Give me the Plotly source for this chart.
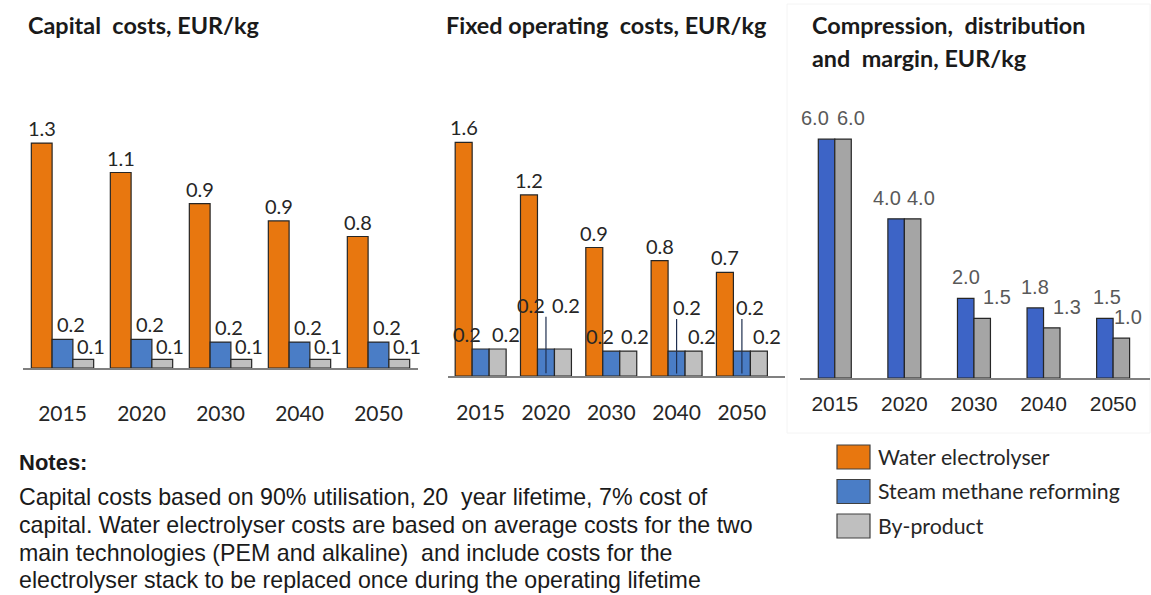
import plotly.graph_objects as go

W, H = 1151, 595

# ---------------- data ----------------
years = ["2015", "2020", "2030", "2040", "2050"]
series_names = ["Water electrolyser", "Steam methane reforming", "By-product"]

cap_water = [1.30, 1.13, 0.95, 0.85, 0.76]
cap_smr = [0.165, 0.165, 0.15, 0.15, 0.15]
cap_byp = [0.05, 0.05, 0.05, 0.05, 0.05]
cap_water_lbl = ["1.3", "1.1", "0.9", "0.9", "0.8"]
cap_smr_lbl = ["0.2", "0.2", "0.2", "0.2", "0.2"]
cap_byp_lbl = ["0.1", "0.1", "0.1", "0.1", "0.1"]

fix_water = [1.60, 1.24, 0.88, 0.79, 0.71]
fix_smr = [0.185, 0.185, 0.17, 0.17, 0.17]
fix_byp = [0.185, 0.185, 0.17, 0.17, 0.17]
fix_water_lbl = ["1.6", "1.2", "0.9", "0.8", "0.7"]
fix_smr_lbl = ["0.2", "0.2", "0.2", "0.2", "0.2"]
fix_byp_lbl = ["0.2", "0.2", "0.2", "0.2", "0.2"]

cdm_smr = [6.0, 4.0, 2.0, 1.76, 1.5]
cdm_byp = [6.0, 4.0, 1.5, 1.26, 1.0]
cdm_smr_lbl = ["6.0", "4.0", "2.0", "1.8", "1.5"]
cdm_byp_lbl = ["6.0", "4.0", "1.5", "1.3", "1.0"]

notes_title = "Notes:"
notes_lines = [
    "Capital costs based on 90% utilisation, 20  year lifetime, 7% cost of",
    "capital. Water electrolyser costs are based on average costs for the two",
    "main technologies (PEM and alkaline)  and include costs for the",
    "electrolyser stack to be replaced once during the operating lifetime",
]

# ---------------- styles ----------------
ORANGE = "#E8770F"
BLUE = "#4A7DC6"
GRAY = "#BFBFBF"
BLUE3 = "#3D64C6"
GRAY3 = "#A5A5A5"
EDGE = "#262626"
CAL = "Lato, 'Open Sans', sans-serif"
ARI = "'Liberation Sans', Arial, sans-serif"

def px(x):
    return x / W

def py(y):
    return 1 - y / H

idx = list(range(len(years)))

fig = go.Figure()

def add_bar(vals, color, xa, ya, width, offset):
    fig.add_trace(go.Bar(
        x=idx, y=vals, xaxis=xa, yaxis=ya, width=width, offset=offset,
        marker=dict(color=color, line=dict(color=EDGE, width=1.2)),
        showlegend=False, hoverinfo="skip"))

w1 = 0.263
add_bar(cap_water, ORANGE, "x", "y", w1, -1.5 * w1)
add_bar(cap_smr, BLUE, "x", "y", w1, -0.5 * w1)
add_bar(cap_byp, GRAY, "x", "y", w1, 0.5 * w1)

w2 = 0.26
add_bar(fix_water, ORANGE, "x2", "y2", w2, -1.5 * w2)
add_bar(fix_smr, BLUE, "x2", "y2", w2, -0.5 * w2)
add_bar(fix_byp, GRAY, "x2", "y2", w2, 0.5 * w2)

w3 = 0.237
add_bar(cdm_smr, BLUE3, "x3", "y3", w3, -w3)
add_bar(cdm_byp, GRAY3, "x3", "y3", w3, 0.0)

annotations = []

def lab(x, y, text, xa, ya, xshift=0, yshift=4, font=CAL, size=20, color="#262626"):
    annotations.append(dict(
        x=x, y=y, xref=xa, yref=ya, text=text, showarrow=False,
        xanchor="center", yanchor="bottom", xshift=xshift, yshift=yshift,
        font=dict(family=font, size=size, color=color)))

# panel 1 labels
for i in idx:
    lab(i - w1, cap_water[i], cap_water_lbl[i], "x", "y", 0, 1)
    lab(i, cap_smr[i], cap_smr_lbl[i], "x", "y", 8, 1)
    lab(i + w1, cap_byp[i], cap_byp_lbl[i], "x", "y", 8, -1)

# panel 2 labels
fix_smr_dx = [-14, -15, -11, 10, 8]
fix_smr_up = [0, 1, 0, 1, 1]
fix_byp_dx = [8, 3, 7, 8, 8]
fix_byp_up = [0, 1, 0, 0, 0]
for i in idx:
    lab(i - w2, fix_water[i], fix_water_lbl[i], "x2", "y2", 0, 1)
    lab(i, fix_smr[i], fix_smr_lbl[i], "x2", "y2", fix_smr_dx[i], 1 + 29 * fix_smr_up[i])
    lab(i + w2, fix_byp[i], fix_byp_lbl[i], "x2", "y2", fix_byp_dx[i], 1 + 29 * fix_byp_up[i])

shapes = []
for i in idx:
    if fix_smr_up[i]:
        shapes.append(dict(type="line", xref="x2", yref="y2",
                           x0=i, x1=i, y0=fix_smr[i] * 0.1, y1=fix_smr[i] + 0.22,
                           line=dict(color="#1F2F4F", width=1.2)))

# panel 3 labels
cdm_smr_dx = [-12, -9, 0, 0, 2]
cdm_byp_dx = [8, 8, 15, 15, 7]
for i in idx:
    lab(i - w3 / 2, cdm_smr[i], cdm_smr_lbl[i], "x3", "y3", cdm_smr_dx[i], 8, ARI, 20, "#595959")
    lab(i + w3 / 2, cdm_byp[i], cdm_byp_lbl[i], "x3", "y3", cdm_byp_dx[i], 8, ARI, 20, "#595959")

# titles
def txt(x, y, text, size, family, color="#1a1a1a", bold=False, anchor="left"):
    annotations.append(dict(
        x=px(x), y=py(y), xref="paper", yref="paper",
        text=f"<b>{text}</b>" if bold else text, showarrow=False,
        xanchor=anchor, yanchor="middle",
        font=dict(family=family, size=size, color=color)))

TS = 23.4
txt(26, 25, "Capital  costs, EUR/kg", TS, CAL, bold=True)
txt(444, 25, "Fixed operating  costs, EUR/kg", TS, CAL, bold=True)
txt(810, 25, "Compression,  distribution", TS, CAL, bold=True)
txt(810, 58, "and  margin, EUR/kg", TS, CAL, bold=True)

# notes
txt(17, 462, notes_title, 22, ARI, color="#1a1a1a", bold=True)
for k, line in enumerate(notes_lines):
    txt(17, 497 + 27.8 * k, line, 23.2, ARI, color="#1a1a1a")

# legend
leg_colors = [ORANGE, BLUE, GRAY]
for k, (name, col) in enumerate(zip(series_names, leg_colors)):
    yc = 457 + 34.5 * k
    shapes.append(dict(type="rect", xref="paper", yref="paper",
                       x0=px(837), x1=px(870), y0=py(yc + 12), y1=py(yc - 12),
                       fillcolor=col, line=dict(color="#404040", width=1.2)))
    txt(876, yc, name, 21.3, CAL, color="#262626")

# faint panel frame
shapes.append(dict(type="rect", xref="paper", yref="paper",
                   x0=px(787), x1=px(1150), y0=py(433), y1=py(4),
                   line=dict(color="#f4f4f4", width=1), fillcolor="rgba(0,0,0,0)",
                   layer="below"))

def xaxis(x0, x1, r1, anchor, font, size, standoff):
    return dict(domain=[px(x0), px(x1)], range=[-0.5, r1], anchor=anchor,
                tickmode="array", tickvals=idx, ticktext=years,
                showline=True, linecolor="#808080", linewidth=1.6,
                showgrid=False, zeroline=False, ticks="",
                ticklabelstandoff=standoff,
                tickfont=dict(family=font, size=size, color="#262626"),
                fixedrange=True)

def yaxis(base, top, rtop, anchor):
    return dict(domain=[py(base), py(top)], range=[0, rtop], anchor=anchor,
                visible=False, fixedrange=True)

fig.update_layout(
    width=W, height=H,
    margin=dict(l=0, r=0, t=0, b=0),
    paper_bgcolor="white", plot_bgcolor="rgba(0,0,0,0)",
    barmode="overlay", showlegend=False,
    xaxis=xaxis(23, 418, 4.5, "y", CAL, 21, 26),
    yaxis=yaxis(368, 90, (368 - 90) / 173.0, "x"),
    xaxis2=xaxis(448, 785, 4.66, "y2", CAL, 21, 17),
    yaxis2=yaxis(376, 90, (376 - 90) / 146.0, "x2"),
    xaxis3=xaxis(800, 1150, 4.53, "y3", ARI, 21, 6),
    yaxis3=yaxis(378, 90, (378 - 90) / 39.8, "x3"),
    annotations=annotations,
    shapes=shapes,
)

fig.write_html("out.html", config={"displayModeBar": False},
               post_script="document.body.style.margin='0px';document.body.style.overflow='hidden';")
